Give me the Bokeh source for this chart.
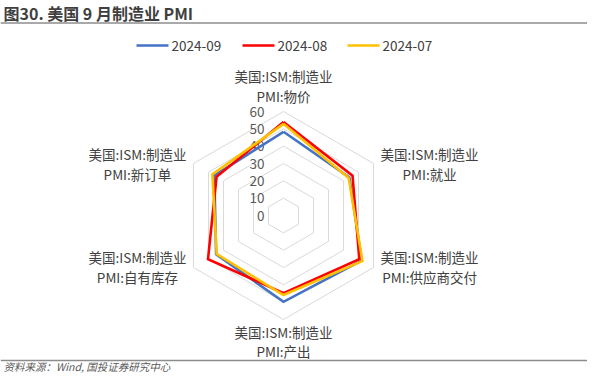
import numpy as np
from bokeh.plotting import figure
from bokeh.models import Range1d
from bokeh.core.properties import value
from bokeh.embed import file_html
from bokeh.resources import INLINE

# ---------------- data ----------------
categories = ["PMI:物价", "PMI:就业", "PMI:供应商交付", "PMI:产出", "PMI:自有库存", "PMI:新订单"]
label_prefix = "美国:ISM:制造业"
series_names = ["2024-09", "2024-08", "2024-07"]
s_2024_09 = [48.3, 43.9, 52.1, 49.8, 44.9, 46.1]
s_2024_08 = [54.0, 46.0, 50.5, 44.8, 50.3, 44.6]
s_2024_07 = [52.9, 43.4, 52.6, 45.9, 44.5, 47.4]
tick_values = [0, 10, 20, 30, 40, 50, 60]
title_text = "图30. 美国 9 月制造业 PMI"
source_text = "资料来源：Wind, 国投证券研究中心"

# ---------------- layout ----------------
W, H = 587, 373
CX, CY = 283.0, 215.0      # radar centre, canvas pixels
S = 1.733                  # pixels per value unit
RMAX = max(tick_values)
FONT = value("Noto Sans CJK SC")
colors = ["#4472C4", "#FF0000", "#FFC000"]

p = figure(width=W, height=H, output_backend="svg", toolbar_location=None,
           x_axis_type=None, y_axis_type=None, min_border=0,
           x_range=Range1d(-CX / S, (W - CX) / S),
           y_range=Range1d(-(H - CY) / S, CY / S))
p.outline_line_color = None
p.xgrid.visible = False
p.ygrid.visible = False
p.background_fill_color = "white"
p.border_fill_color = "white"


def px(cx, cy):
    return (cx - CX) / S, (CY - cy) / S


n = len(categories)
angles = np.pi / 2 - np.arange(n) * 2 * np.pi / n


def polar(vals):
    v = np.asarray(vals, dtype=float)
    xs = v * np.cos(angles)
    ys = v * np.sin(angles)
    return list(xs) + [xs[0]], list(ys) + [ys[0]]


# grid hexagons
for t in tick_values[1:]:
    gx, gy = polar([t] * n)
    p.line(gx, gy, line_color="#D9D9D9", line_width=1)

# tick labels
tx = [px(264, 0)[0]] * len(tick_values)
p.text(x=tx, y=tick_values, text=[str(t) for t in tick_values], text_align="right",
       text_baseline="middle", text_font=FONT, text_font_size="13.5px", text_color="#595959")

# series
for vals, c in zip([s_2024_09, s_2024_08, s_2024_07], colors):
    sx, sy = polar(vals)
    p.line(sx, sy, line_color=c, line_width=2.6, line_join="miter")

# category labels
for i, cat in enumerate(categories):
    vx = RMAX * np.cos(angles[i]) * S + CX
    vy = CY - RMAX * np.sin(angles[i]) * S
    ca = np.cos(angles[i])
    sa = np.sin(angles[i])
    if abs(ca) < 0.1:
        lx = vx
        if sa > 0:
            y1, y2 = vy - 36, vy - 16
        else:
            y1, y2 = vy + 13, vy + 32
    else:
        lx = vx + np.sign(ca) * 56
        y1, y2 = vy - 10, vy + 10
    for txt, yy in [(label_prefix, y1), (cat, y2)]:
        x0, y0 = px(lx, yy)
        p.text(x=[x0], y=[y0], text=[txt], text_align="center", text_baseline="middle",
               text_font=FONT, text_font_size="13.5px", text_color="#404040")

# legend
leg_x = [136, 242, 347]
for name, c, lx0 in zip(series_names, colors, leg_x):
    xa, ya = px(lx0, 45)
    xb, _ = px(lx0 + 32, 45)
    p.segment(x0=[xa], y0=[ya], x1=[xb], y1=[ya], line_color=c, line_width=2.6)
    xt, _ = px(lx0 + 35, 45)
    p.text(x=[xt], y=[ya], text=[name], text_align="left", text_baseline="middle",
           text_font=FONT, text_font_size="13.5px", text_color="#404040")

# title and rule
xt, yt = px(3, 12)
p.text(x=[xt], y=[yt], text=[title_text], text_align="left", text_baseline="middle",
       text_font=FONT, text_font_size="16px", text_font_style="bold", text_color="#3F3F3F")
xa, ya = px(0, 22.5)
xb, _ = px(W, 22.5)
p.segment(x0=[xa], y0=[ya], x1=[xb], y1=[ya], line_color="#8C8C8C", line_width=1.5)

# source rule and text
xa, ya = px(0, 360)
p.segment(x0=[xa], y0=[ya], x1=[xb], y1=[ya], line_color="#8C8C8C", line_width=1.5)
xs_, ys_ = px(3, 366)
p.text(x=[xs_], y=[ys_], text=[source_text], text_align="left", text_baseline="middle",
       text_font=FONT, text_font_size="10.5px", text_font_style="italic", text_color="#595959")

open("out.html", "w").write(file_html(p, INLINE))
